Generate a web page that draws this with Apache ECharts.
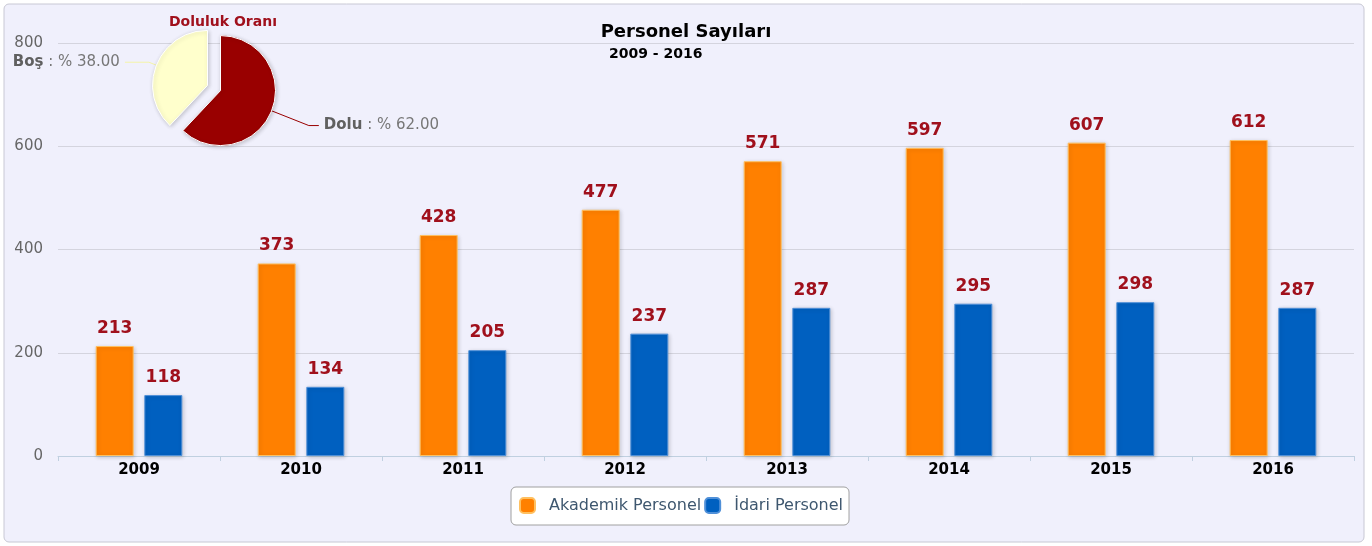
<!DOCTYPE html>
<html>
<head>
<meta charset="utf-8">
<script src="https://cdn.jsdelivr.net/npm/echarts@6/dist/echarts.min.js"></script>
<style>
  html, body { margin: 0; padding: 0; background: #fff; }
  #chart { width: 1372px; height: 546px; }
</style>
</head>
<body>
<div id="chart"></div>
<script>
  // data
  var years = ['2009', '2010', '2011', '2012', '2013', '2014', '2015', '2016'];
  var akademik = [213, 373, 428, 477, 571, 597, 607, 612];
  var idari = [118, 134, 205, 237, 287, 295, 298, 287];
  var pieNames = ['Dolu', 'Boş'];
  var pieValues = [62, 38];

  var font = 'DejaVu Sans, Verdana, sans-serif';
  var chart = echarts.init(document.getElementById('chart'));

  var barLabel = {
    show: true,
    position: 'top',
    distance: 9,
    color: '#a0101c',
    fontWeight: 'bold',
    fontSize: 17,
    fontFamily: font
  };

  var option = {
    backgroundColor: '#ffffff',
    animation: false,
    graphic: [{
      type: 'rect',
      z: -10,
      shape: { x: 4, y: 4, width: 1360, height: 538, r: 5 },
      style: { fill: '#f0f0fc', stroke: '#c8c8d4', lineWidth: 1 }
    }],
    title: [
      {
        text: 'Personel Sayıları',
        left: 'center',
        top: 18,
        textStyle: { fontFamily: font, fontSize: 18, fontWeight: 'bold', color: '#000' }
      },
      {
        text: '2009 - 2016',
        left: 604,
        top: 42,
        textStyle: { fontFamily: font, fontSize: 14, fontWeight: 'bold', color: '#000' }
      },
      {
        text: 'Doluluk Oranı',
        left: 164,
        top: 10,
        textStyle: { fontFamily: font, fontSize: 14, fontWeight: 'bold', color: '#a0101c' }
      }
    ],
    legend: {
      left: 511,
      top: 487,
      itemGap: 3,
      itemWidth: 15,
      itemHeight: 15,
      padding: [10, 6, 11, 8],
      backgroundColor: '#ffffff',
      borderColor: '#a0a0a0',
      borderWidth: 1,
      borderRadius: 5,
      textStyle: { fontFamily: font, fontSize: 16, color: '#3e576f', padding: [0, 0, 0, 9] },
      data: [
        { name: 'Akademik Personel', itemStyle: { borderRadius: 3 } },
        { name: 'İdari Personel', itemStyle: { borderRadius: 3 } }
      ]
    },
    grid: { left: 58, right: 18, top: 43, bottom: 90 },
    xAxis: {
      type: 'category',
      data: years,
      axisLine: { lineStyle: { color: '#c0d0e0', width: 1 } },
      axisTick: { show: true, length: 5, lineStyle: { color: '#c0d0e0' } },
      axisLabel: { color: '#000', fontWeight: 'bold', fontSize: 15, fontFamily: font, margin: 7 }
    },
    yAxis: {
      type: 'value',
      min: 0,
      max: 800,
      interval: 200,
      axisLine: { show: false },
      axisTick: { show: false },
      splitLine: { lineStyle: { color: '#d4d4de', width: 1 } },
      axisLabel: { color: '#666', fontSize: 15, fontFamily: font, margin: 15 }
    },
    series: [
      {
        name: 'Akademik Personel',
        type: 'bar',
        data: akademik,
        barWidth: 38,
        barGap: '28%',
        itemStyle: {
          color: '#ff8000',
          borderColor: '#ffc060',
          borderWidth: 1,
          shadowColor: 'rgba(0,0,0,0.18)',
          shadowBlur: 4,
          shadowOffsetX: 1,
          shadowOffsetY: 1
        },
        label: barLabel
      },
      {
        name: 'İdari Personel',
        type: 'bar',
        data: idari,
        barWidth: 38,
        itemStyle: {
          color: '#0060c0',
          borderColor: '#5090d8',
          borderWidth: 1,
          shadowColor: 'rgba(0,0,0,0.18)',
          shadowBlur: 4,
          shadowOffsetX: 1,
          shadowOffsetY: 1
        },
        label: barLabel
      },
      {
        type: 'pie',
        center: [214, 88],
        radius: [0, 55],
        startAngle: 90,
        clockwise: true,
        selectedMode: 'multiple',
        selectedOffset: 7,
        avoidLabelOverlap: false,
        z: 10,
        data: [
          { name: pieNames[0], value: pieValues[0], selected: true,
            itemStyle: { color: '#990000' },
            labelLine: { length: 40, length2: 10, lineStyle: { color: '#990000' } } },
          { name: pieNames[1], value: pieValues[1], selected: true,
            itemStyle: { color: '#ffffcc' },
            labelLine: { length: 8, length2: 24, lineStyle: { color: '#f4f4a8' } } }
        ],
        itemStyle: {
          borderColor: '#ffffff',
          borderWidth: 1,
          shadowColor: 'rgba(0,0,0,0.2)',
          shadowBlur: 4,
          shadowOffsetX: 1,
          shadowOffsetY: 1
        },
        label: {
          show: true,
          position: 'outside',
          fontFamily: font,
          formatter: function (p) {
            return '{n|' + p.name + '} : % ' + p.value.toFixed(2);
          },
          color: '#777',
          fontSize: 15,
          rich: { n: { fontWeight: 'bold', color: '#606060', fontSize: 15, fontFamily: font } }
        },
        labelLine: { show: true, smooth: false, lineStyle: { width: 1 } }
      }
    ]
  };

  chart.setOption(option);
</script>
</body>
</html>
